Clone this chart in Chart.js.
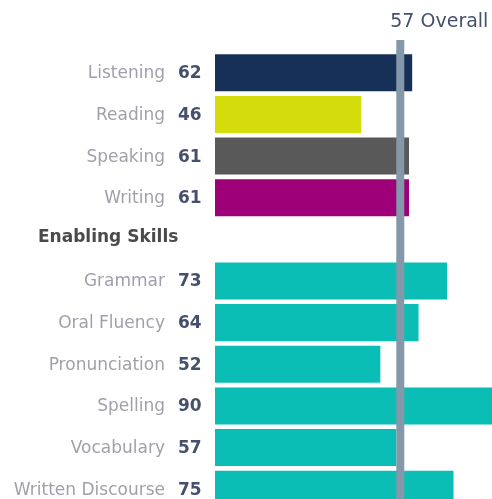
<!DOCTYPE html>
<html>
<head>
<meta charset="utf-8">
<script src="https://cdn.jsdelivr.net/npm/chart.js@4"></script>
<style>
    html, body { margin: 0; padding: 0; background: #fff; overflow: hidden; }
    #wrap { position: relative; width: 492px; height: 510px; }
</style>
</head>
<body>
<div id="wrap"><canvas id="skillsChart"></canvas></div>
<script>
// skill rows, the empty score marks the "Enabling Skills" heading row
const skills = ['Listening', 'Reading', 'Speaking', 'Writing', 'Enabling Skills',
    'Grammar', 'Oral Fluency', 'Pronunciation', 'Spelling', 'Vocabulary', 'Written Discourse'];
const scores = [62, 46, 61, 61, null, 73, 64, 52, 90, 57, 75];
const barColors = ['#173057', '#d4dc0c', '#595959', '#9e0077', '#ffffff',
    '#0bbeb5', '#0bbeb5', '#0bbeb5', '#0bbeb5', '#0bbeb5', '#0bbeb5'];
const overallScore = 57;
const overallLabel = overallScore + ' Overall';

const FONT = '"DejaVu Sans", Verdana, sans-serif';

// names + scores to the left of the bars
const rowLabels = {
    id: 'rowLabels',
    afterDraw(chart) {
        const c = chart.ctx;
        const y = chart.scales.y;
        c.save();
        c.textBaseline = 'middle';
        skills.forEach((name, i) => {
            const py = y.getPixelForValue(i);
            if (scores[i] === null) {
                c.font = 'bold 17px ' + FONT;
                c.fillStyle = '#4a4a4a';
                c.textAlign = 'left';
                c.fillText(name, 38, py - 2);
                return;
            }
            c.font = '17px ' + FONT;
            c.fillStyle = '#a0a0ac';
            c.textAlign = 'right';
            c.fillText(name, 165, py + 1);
            c.font = 'bold 17px ' + FONT;
            c.fillStyle = '#44516d';
            c.textAlign = 'left';
            c.fillText(String(scores[i]), 178, py + 1);
        });
        c.restore();
    }
};

// vertical marker for the overall score
const overallLine = {
    id: 'overallLine',
    afterDatasetsDraw(chart) {
        const c = chart.ctx;
        const x = chart.scales.x.getPixelForValue(overallScore);
        c.save();
        c.fillStyle = '#8498aa';
        c.fillRect(x, 40, 8, chart.chartArea.bottom - 40);
        c.font = '19px ' + FONT;
        c.fillStyle = '#44516d';
        c.textAlign = 'left';
        c.textBaseline = 'middle';
        c.fillText(overallLabel, x - 6, 22);
        c.restore();
    }
};

new Chart(document.getElementById('skillsChart'), {
    type: 'bar',
    data: {
        labels: skills,
        datasets: [{
            data: scores,
            backgroundColor: barColors,
            categoryPercentage: 1,
            barPercentage: 0.89
        }]
    },
    options: {
        indexAxis: 'y',
        responsive: true,
        maintainAspectRatio: false,
        animation: false,
        layout: { padding: { left: 215, top: 52, right: 0, bottom: 0 } },
        plugins: {
            legend: { display: false },
            tooltip: { enabled: false }
        },
        scales: {
            x: { display: false, min: 0, max: 87.1 },
            y: { display: false }
        }
    },
    plugins: [rowLabels, overallLine]
});
</script>
</body>
</html>
